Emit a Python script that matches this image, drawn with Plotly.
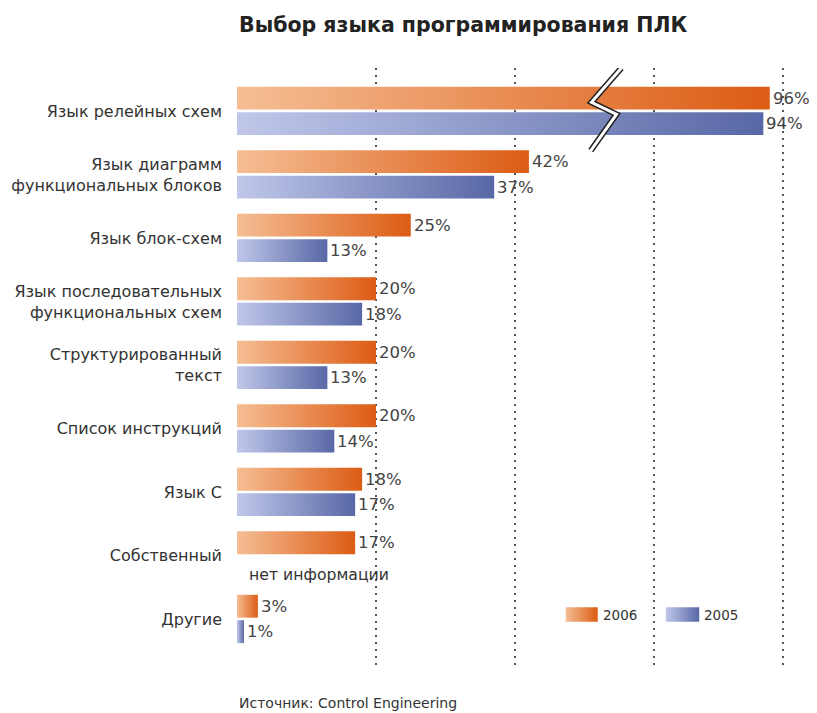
import plotly.graph_objects as go

# ---- data ----
categories = [
    "Язык релейных схем",
    "Язык диаграмм<br>функциональных блоков",
    "Язык блок-схем",
    "Язык последовательных<br>функциональных схем",
    "Структурированный<br>текст",
    "Список инструкций",
    "Язык С",
    "Собственный",
    "Другие",
]
values_2006 = [96, 42, 25, 20, 20, 20, 18, 17, 3]
values_2005 = [94, 37, 13, 18, 13, 14, 17, None, 1]
series_names = ["2006", "2005"]
grid_values = [0, 20, 40, 60, 100]

# ---- style ----
ORANGE = ["#F5BE94", "#DC5C14"]
BLUE = ["#C0C7EA", "#5868A6"]
FONT = "DejaVu Sans, Verdana, sans-serif"
TXT = "#333333"

# broken axis: values above BREAK are compressed
BREAK = 60
COMPRESS = 0.4625


def disp(v):
    return v if v <= BREAK else BREAK + (v - BREAK) * COMPRESS


fig = go.Figure()


def add_bar(x0, x1, y0, y1, colors):
    fig.add_trace(go.Scatter(
        x=[x0, x1, x1, x0, x0], y=[y0, y0, y1, y1, y0],
        mode="lines", line=dict(width=0), fill="toself",
        fillgradient=dict(type="horizontal",
                          colorscale=[[0, colors[0]], [1, colors[1]]]),
        hoverinfo="skip", showlegend=False))


OFF = {"2006": (-0.385, -0.025), "2005": (0.015, 0.375)}
for i, cat in enumerate(categories):
    for name, vals, cols in (("2006", values_2006, ORANGE), ("2005", values_2005, BLUE)):
        v = vals[i]
        if v is None:
            continue
        a, b = OFF[name]
        add_bar(0, disp(v), i + a, i + b, cols)
        fig.add_annotation(x=disp(v), y=i + (a + b) / 2, text=f"{v}%",
                           showarrow=False, xanchor="left", yanchor="middle",
                           xshift=1, font=dict(family=FONT, size=16.5, color="#444444"))

# axis break symbol (zigzag)
zx = [55.3, 51.0, 54.6, 50.9]
zy = [-0.68, -0.14, 0.05, 0.62]
fig.add_trace(go.Scatter(x=zx, y=zy, mode="lines", line=dict(color="#222222", width=6),
                         hoverinfo="skip", showlegend=False))
fig.add_trace(go.Scatter(x=zx, y=zy, mode="lines", line=dict(color="white", width=3),
                         hoverinfo="skip", showlegend=False))

# custom legend swatches
sw_y0, sw_y1 = 7.81, 8.04
add_bar(47.3, 51.9, sw_y0, sw_y1, ORANGE)
add_bar(61.7, 66.5, sw_y0, sw_y1, BLUE)
for xx, name in ((52.3, series_names[0]), (66.9, series_names[1])):
    fig.add_annotation(x=xx, y=(sw_y0 + sw_y1) / 2, text=name, showarrow=False,
                       xanchor="left", yanchor="middle",
                       font=dict(family=FONT, size=13.5, color=TXT))

# "no information" note
fig.add_annotation(x=1.4, y=7 + 0.29, text="нет информации", showarrow=False,
                   xanchor="left", yanchor="middle",
                   font=dict(family=FONT, size=15.7, color=TXT))

# title and source
fig.add_annotation(x=0, y=1.072, xref="paper", yref="paper",
                   text="<b>Выбор языка программирования ПЛК</b>", showarrow=False,
                   xanchor="left", yanchor="middle",
                   font=dict(family=FONT, size=20.5, color="#222222"))
fig.add_annotation(x=0, y=-0.064, xref="paper", yref="paper",
                   text="Источник: Control Engineering", showarrow=False,
                   xanchor="left", yanchor="middle",
                   font=dict(family=FONT, size=14, color=TXT))

fig.update_layout(
    width=809, height=705,
    margin=dict(l=229, r=17, t=60, b=48, autoexpand=False),
    plot_bgcolor="white", paper_bgcolor="white",
    showlegend=False,
    xaxis=dict(range=[0, 81], tickvals=[disp(g) for g in grid_values],
               showticklabels=False, showgrid=True, gridcolor="#555555",
               gridwidth=2, griddash="2px,5px", zeroline=False, showline=False,
               fixedrange=True, automargin=False),
    yaxis=dict(range=[8.72, -0.68], tickvals=list(range(len(categories))),
               ticktext=categories, showgrid=False, zeroline=False, showline=False,
               ticks="", ticklabelstandoff=14, automargin=False,
               tickfont=dict(family=FONT, size=16, color=TXT), fixedrange=True),
)

fig.write_html("out.html")
